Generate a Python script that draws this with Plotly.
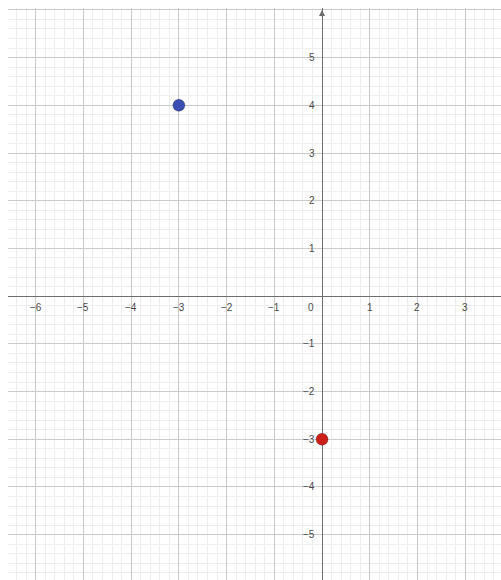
import plotly.graph_objects as go

# Data
point_x = [-3, 0]
point_y = [4, -3]
point_colors = ["#3a4db0", "#cc1f1a"]
x_tick_vals = [-6, -5, -4, -3, -2, -1, 1, 2, 3]
y_tick_vals = [-5, -4, -3, -2, -1, 1, 2, 3, 4, 5]

label_font = dict(family="Liberation Sans, Arial, sans-serif", size=10, color="#4a4a4a")

fig = go.Figure()
fig.add_trace(go.Scatter(
    x=point_x, y=point_y, mode="markers",
    marker=dict(size=12, color=point_colors, line=dict(width=1, color="rgba(0,0,0,0.25)")),
    hoverinfo="skip", showlegend=False,
))

annotations = []
for v in x_tick_vals:
    annotations.append(dict(x=v, y=0, xref="x", yref="y", text=("−" + str(-v)) if v < 0 else str(v),
                            showarrow=False, yshift=-11, font=label_font))
for v in y_tick_vals:
    annotations.append(dict(x=0, y=v, xref="x", yref="y", text=("−" + str(-v)) if v < 0 else str(v),
                            showarrow=False, xanchor="right", xshift=-5, font=label_font))
annotations.append(dict(x=0, y=0, xref="x", yref="y", text="0", showarrow=False,
                        xanchor="right", xshift=-6, yshift=-11, font=label_font))
# axis arrow at top of y-axis
annotations.append(dict(x=0, y=6.0, xref="x", yref="y", ax=0, ay=8, axref="pixel", ayref="pixel",
                        showarrow=True, arrowhead=2, arrowsize=1, arrowwidth=1.2,
                        arrowcolor="#6e6e6e", text=""))

axis_common = dict(
    showgrid=True, gridcolor="#cacaca", gridwidth=1,
    dtick=1, tick0=0,
    minor=dict(dtick=0.2, showgrid=True, gridcolor="#eeeeee", gridwidth=1),
    zeroline=True, zerolinecolor="#6e6e6e", zerolinewidth=1.4,
    showticklabels=False, ticks="", showline=False, fixedrange=True,
)

fig.update_layout(
    width=501, height=580,
    margin=dict(l=8, r=0, t=8, b=0),
    paper_bgcolor="white", plot_bgcolor="white",
    xaxis=dict(range=[-6.58, 3.75], **axis_common),
    yaxis=dict(range=[-5.95, 6.04], **axis_common),
    annotations=annotations,
    showlegend=False,
)

fig.write_html(
    "out.html",
    config={"displayModeBar": False},
    post_script="document.body.style.margin='0';document.body.style.overflow='hidden';",
)
